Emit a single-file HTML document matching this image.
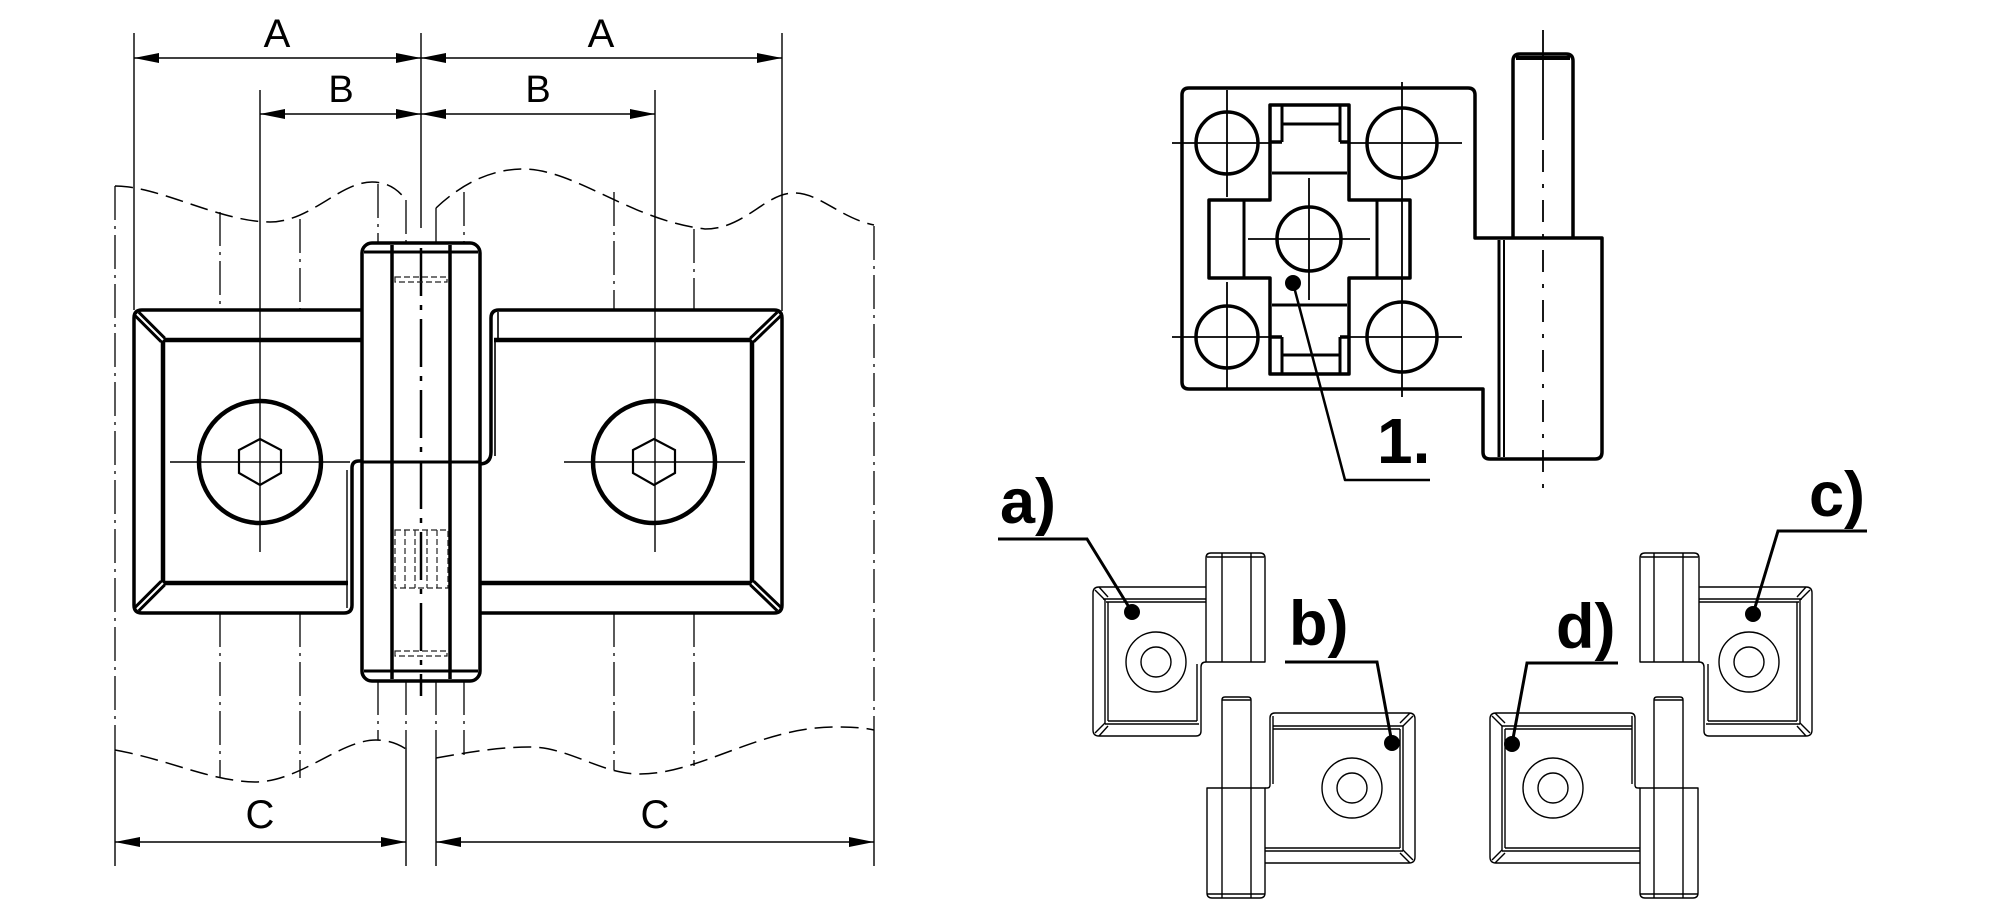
<!DOCTYPE html>
<html><head><meta charset="utf-8"><style>
html,body{margin:0;padding:0;background:#fff;}
svg{display:block;}
text{font-family:"Liberation Sans",Arial,sans-serif;fill:#000;}
</style></head><body>
<svg width="2000" height="912" viewBox="0 0 2000 912" xmlns="http://www.w3.org/2000/svg">
<rect width="2000" height="912" fill="#fff"/>

<!-- ============ MAIN DRAWING ============ -->
<!-- dimension labels -->
<g font-size="40" text-anchor="middle">
<text x="277" y="47">A</text>
<text x="601" y="47">A</text>
<text x="341" y="102" font-size="38">B</text>
<text x="538" y="102" font-size="38">B</text>
<text x="260" y="828">C</text>
<text x="655" y="828">C</text>
</g>

<!-- extension & dimension lines -->
<g stroke="#000" stroke-width="1.4" fill="none">
<line x1="134" y1="33" x2="134" y2="310"/>
<line x1="421" y1="33" x2="421" y2="228"/>
<line x1="782" y1="33" x2="782" y2="311"/>
<line x1="260" y1="90" x2="260" y2="552"/>
<line x1="655" y1="90" x2="655" y2="552"/>
<line x1="134" y1="58" x2="782" y2="58"/>
<line x1="260" y1="114" x2="655" y2="114"/>
<line x1="115" y1="842" x2="406" y2="842"/>
<line x1="436" y1="842" x2="874" y2="842"/>
<!-- C extension solid parts -->
<line x1="115" y1="752" x2="115" y2="866"/>
<line x1="406" y1="748" x2="406" y2="866"/>
<line x1="436" y1="758" x2="436" y2="866"/>
<line x1="874" y1="730" x2="874" y2="866"/>
</g>
<g fill="#000">
<polygon points="134,58 159,53 159,63"/>
<polygon points="421,58 396,53 396,63"/>
<polygon points="421,58 446,53 446,63"/>
<polygon points="782,58 757,53 757,63"/>
<polygon points="260,114 285,109 285,119"/>
<polygon points="421,114 396,109 396,119"/>
<polygon points="421,114 446,109 446,119"/>
<polygon points="655,114 630,109 630,119"/>
<polygon points="115,842 140,837 140,847"/>
<polygon points="406,842 381,837 381,847"/>
<polygon points="436,842 461,837 461,847"/>
<polygon points="874,842 849,837 849,847"/>
</g>

<!-- dash-dot construction lines -->
<g stroke="#000" stroke-width="1.3" fill="none" stroke-dasharray="34 6 3 6">
<line x1="115" y1="186" x2="115" y2="752"/>
<line x1="874" y1="226" x2="874" y2="730"/>
<line x1="220" y1="212" x2="220" y2="310"/>
<line x1="300" y1="219" x2="300" y2="310"/>
<line x1="378" y1="184" x2="378" y2="243"/>
<line x1="406" y1="200" x2="406" y2="243"/>
<line x1="436" y1="208" x2="436" y2="243"/>
<line x1="464" y1="192" x2="464" y2="243"/>
<line x1="614" y1="192" x2="614" y2="311"/>
<line x1="694" y1="229" x2="694" y2="311"/>
<line x1="220" y1="613" x2="220" y2="778"/>
<line x1="300" y1="613" x2="300" y2="778"/>
<line x1="378" y1="681" x2="378" y2="740"/>
<line x1="406" y1="681" x2="406" y2="748"/>
<line x1="436" y1="681" x2="436" y2="758"/>
<line x1="464" y1="681" x2="464" y2="755"/>
<line x1="614" y1="613" x2="614" y2="770"/>
<line x1="694" y1="613" x2="694" y2="766"/>
</g>

<!-- wavy break lines -->
<g stroke="#000" stroke-width="1.5" fill="none" stroke-dasharray="18 8">
<path d="M115,186 C160,186 220,222 270,222 C310,222 340,182 372,182 C390,182 400,192 406,200"/>
<path d="M436,208 C455,190 485,169 523,169 C575,169 630,220 705,229 C745,229 765,193 794,193 C820,193 840,218 874,225"/>
<path d="M115,750 C170,760 210,781 255,782 C300,782 340,740 376,740 C390,740 400,745 406,749"/>
<path d="M436,758 C470,752 500,747 529,747 C570,747 600,774 640,774 C700,774 760,727 835,727 C855,727 865,728 874,730"/>
</g>

<!-- left plate -->
<g stroke="#000" fill="none" stroke-linejoin="round">
<path d="M362,310 L142,310 Q134,310 134,318 L134,605 Q134,613 142,613 L344,613 Q352,613 352,605 L352,468 Q352,461 359,461 L362,461" stroke-width="3.5"/>
<line x1="347" y1="470" x2="347" y2="608" stroke-width="1.4"/>
<line x1="163" y1="340" x2="362" y2="340" stroke-width="4.5"/>
<line x1="163" y1="338" x2="163" y2="585" stroke-width="4.5"/>
<line x1="163" y1="583" x2="348" y2="583" stroke-width="4.5"/>
<!-- bevels -->
<line x1="137" y1="314" x2="163" y2="340" stroke-width="8"/>
<line x1="137" y1="314" x2="163" y2="340" stroke-width="2" stroke="#fff"/>
<line x1="137" y1="609" x2="163" y2="583" stroke-width="8"/>
<line x1="137" y1="609" x2="163" y2="583" stroke-width="2" stroke="#fff"/>
</g>

<!-- right plate -->
<g stroke="#000" fill="none" stroke-linejoin="round">
<path d="M479,464 Q491,464 491,452 L491,318 Q491,310 499,310 L774,310 Q782,310 782,318 L782,605 Q782,613 774,613 L479,613" stroke-width="3.5"/>
<line x1="498" y1="312" x2="498" y2="340" stroke-width="1.6"/>
<line x1="495" y1="342" x2="495" y2="456" stroke-width="1.6"/>
<line x1="494" y1="340" x2="752" y2="340" stroke-width="4.5"/>
<line x1="752" y1="338" x2="752" y2="585" stroke-width="4.5"/>
<line x1="479" y1="583" x2="752" y2="583" stroke-width="4.5"/>
<line x1="779" y1="314" x2="752" y2="340" stroke-width="8"/>
<line x1="779" y1="314" x2="752" y2="340" stroke-width="2" stroke="#fff"/>
<line x1="779" y1="609" x2="752" y2="583" stroke-width="8"/>
<line x1="779" y1="609" x2="752" y2="583" stroke-width="2" stroke="#fff"/>
</g>

<!-- hinge (main) -->
<g stroke="#000" fill="none">
<rect x="362" y="243" width="118" height="438" rx="10" stroke-width="3.5" fill="#fff"/>
<line x1="364" y1="252" x2="478" y2="252" stroke-width="3"/>
<line x1="364" y1="671" x2="478" y2="671" stroke-width="3"/>
<line x1="392" y1="245" x2="392" y2="679" stroke-width="3.5"/>
<line x1="450" y1="245" x2="450" y2="679" stroke-width="3.5"/>
<line x1="362" y1="462" x2="480" y2="462" stroke-width="3"/>
<line x1="421" y1="248" x2="421" y2="696" stroke-width="2.5" stroke-dasharray="48 9 5 9"/>
<g stroke-width="1.2" stroke-dasharray="6 3" stroke="#222">
<rect x="395" y="277" width="52" height="5"/>
<rect x="395" y="651" width="52" height="5"/>
<rect x="395" y="530" width="53" height="58"/>
<line x1="405" y1="530" x2="405" y2="588"/>
<line x1="415" y1="530" x2="415" y2="588"/>
<line x1="427" y1="530" x2="427" y2="588"/>
<line x1="437" y1="530" x2="437" y2="588"/>
</g>
</g>

<!-- screws -->
<g stroke="#000" fill="none">
<circle cx="260" cy="462" r="61" stroke-width="4.5"/>
<circle cx="654" cy="462" r="61" stroke-width="4.5"/>
<polygon points="260,439 281,450 281,473 260,485 239,473 239,450" stroke-width="2.2"/>
<polygon points="654,439 675,450 675,473 654,485 633,473 633,450" stroke-width="2.2"/>
<line x1="170" y1="462" x2="350" y2="462" stroke-width="1.4"/>
<line x1="564" y1="462" x2="745" y2="462" stroke-width="1.4"/>
</g>

<!-- ============ TOP RIGHT VIEW ============ -->
<g stroke="#000" fill="none" stroke-linejoin="round">
<path d="M1182,95 Q1182,88 1189,88 L1468,88 Q1475,88 1475,95 L1475,238 L1602,238 L1602,452 Q1602,459 1595,459 L1490,459 Q1483,459 1483,452 L1483,389 L1189,389 Q1182,389 1182,382 Z" stroke-width="3.5"/>
<line x1="1499" y1="240" x2="1499" y2="457" stroke-width="3"/>
<line x1="1504" y1="240" x2="1504" y2="457" stroke-width="2"/>
<path d="M1513,238 L1513,61 Q1513,54 1520,54 L1566,54 Q1573,54 1573,61 L1573,238" stroke-width="3.5"/>
<line x1="1516" y1="58" x2="1570" y2="58" stroke-width="4"/>
<line x1="1543" y1="30" x2="1543" y2="140" stroke-width="1.8"/>
<line x1="1543" y1="150" x2="1543" y2="493" stroke-width="1.8" stroke-dasharray="22 12 4 12"/>

<!-- cross-shaped recess -->
<polygon points="1270,105 1349,105 1349,200 1410,200 1410,278 1349,278 1349,374 1270,374 1270,278 1209,278 1209,200 1270,200" stroke-width="3.5"/>
<line x1="1244" y1="200" x2="1244" y2="278" stroke-width="3"/>
<line x1="1377" y1="200" x2="1377" y2="278" stroke-width="3"/>
<line x1="1272" y1="173" x2="1347" y2="173" stroke-width="3"/>
<line x1="1272" y1="305" x2="1347" y2="305" stroke-width="3"/>
<line x1="1282" y1="105" x2="1282" y2="142" stroke-width="3"/>
<line x1="1340" y1="105" x2="1340" y2="142" stroke-width="3"/>
<line x1="1282" y1="124" x2="1340" y2="124" stroke-width="3"/>
<line x1="1270" y1="142" x2="1282" y2="142" stroke-width="3.5"/>
<line x1="1340" y1="142" x2="1349" y2="142" stroke-width="3.5"/>
<line x1="1282" y1="337" x2="1282" y2="374" stroke-width="3"/>
<line x1="1340" y1="337" x2="1340" y2="374" stroke-width="3"/>
<line x1="1282" y1="355" x2="1340" y2="355" stroke-width="3"/>
<line x1="1270" y1="337" x2="1282" y2="337" stroke-width="3.5"/>
<line x1="1340" y1="337" x2="1349" y2="337" stroke-width="3.5"/>

<!-- bolt holes -->
<circle cx="1227" cy="143" r="31" stroke-width="3.5"/>
<circle cx="1402" cy="143" r="35" stroke-width="3.5"/>
<circle cx="1227" cy="337" r="31" stroke-width="3.5"/>
<circle cx="1402" cy="337" r="35" stroke-width="3.5"/>
<circle cx="1309" cy="239" r="32" stroke-width="3.5"/>
<g stroke-width="1.8">
<line x1="1172" y1="143" x2="1270" y2="143"/>
<line x1="1349" y1="143" x2="1462" y2="143"/>
<line x1="1172" y1="337" x2="1270" y2="337"/>
<line x1="1349" y1="337" x2="1462" y2="337"/>
<line x1="1227" y1="90" x2="1227" y2="197"/>
<line x1="1227" y1="282" x2="1227" y2="389"/>
<line x1="1402" y1="82" x2="1402" y2="397"/>
<line x1="1248" y1="239" x2="1370" y2="239"/>
<line x1="1309" y1="178" x2="1309" y2="300"/>
</g>
<!-- leader 1. -->
<polyline points="1293,283 1345,480 1430,480" stroke-width="2.5"/>
</g>
<circle cx="1293" cy="283" r="8" fill="#000"/>
<text x="1377" y="463" font-size="64" font-weight="bold">1.</text>

<!-- ============ a) / b) ============ -->
<g id="ab" stroke="#000" fill="none" stroke-width="1.4" stroke-linejoin="round">
<!-- plate a -->
<path d="M1206,587 L1099,587 Q1093,587 1093,593 L1093,730 Q1093,736 1099,736 L1196,736 Q1201,736 1201,731 L1201,667 Q1201,662 1206,662"/>
<line x1="1103" y1="599" x2="1206" y2="599"/>
<line x1="1106" y1="602" x2="1206" y2="602"/>
<line x1="1105" y1="599" x2="1105" y2="724"/>
<line x1="1108" y1="602" x2="1108" y2="721"/>
<line x1="1108" y1="721" x2="1197" y2="721"/>
<line x1="1105" y1="724" x2="1199" y2="724"/>
<line x1="1197" y1="664" x2="1197" y2="721"/>
<line x1="1095" y1="590" x2="1105" y2="600"/>
<line x1="1099" y1="587" x2="1108" y2="597"/>
<line x1="1095" y1="733" x2="1105" y2="723"/>
<line x1="1099" y1="736" x2="1108" y2="726"/>
<circle cx="1156" cy="662" r="30"/>
<circle cx="1156" cy="662" r="15"/>
<!-- hinge upper block -->
<path d="M1206,662 L1206,558 Q1206,553 1211,553 L1260,553 Q1265,553 1265,558 L1265,662 Z" fill="#fff"/>
<line x1="1207" y1="557" x2="1264" y2="557"/>
<line x1="1222" y1="553" x2="1222" y2="662"/>
<line x1="1251" y1="553" x2="1251" y2="662"/>
<!-- lower pin -->
<path d="M1222,788 L1222,700 Q1222,697 1225,697 L1248,697 Q1251,697 1251,700 L1251,788"/>
<line x1="1222" y1="700" x2="1251" y2="700"/>
<path d="M1207,788 L1265,788 L1265,893 Q1265,898 1260,898 L1212,898 Q1207,898 1207,893 Z"/>
<line x1="1222" y1="788" x2="1222" y2="898"/>
<line x1="1251" y1="788" x2="1251" y2="898"/>
<line x1="1207" y1="894" x2="1265" y2="894"/>
<!-- plate b -->
<path d="M1265,788 L1267,788 Q1270,788 1270,785 L1270,718 Q1270,713 1275,713 L1409,713 Q1415,713 1415,719 L1415,857 Q1415,863 1409,863 L1265,863"/>
<line x1="1273" y1="716" x2="1273" y2="784"/>
<line x1="1273" y1="726" x2="1403" y2="726"/>
<line x1="1273" y1="729" x2="1400" y2="729"/>
<line x1="1400" y1="729" x2="1400" y2="848"/>
<line x1="1403" y1="726" x2="1403" y2="851"/>
<line x1="1265" y1="848" x2="1400" y2="848"/>
<line x1="1265" y1="851" x2="1403" y2="851"/>
<line x1="1413" y1="716" x2="1403" y2="726"/>
<line x1="1410" y1="713" x2="1400" y2="723"/>
<line x1="1413" y1="860" x2="1403" y2="850"/>
<line x1="1410" y1="863" x2="1400" y2="853"/>
<circle cx="1352" cy="788" r="30"/>
<circle cx="1352" cy="788" r="15"/>
</g>
<!-- c) / d) mirrored -->
<use href="#ab" transform="translate(2905,0) scale(-1,1)"/>

<!-- leaders & labels -->
<g stroke="#000" stroke-width="3" fill="none">
<polyline points="998,539 1087,539 1132,612"/>
<polyline points="1285,662 1377,662 1392,743"/>
<polyline points="1867,531 1778,531 1753,614"/>
<polyline points="1618,663 1527,663 1512,744"/>
</g>
<g fill="#000">
<circle cx="1132" cy="612" r="8"/>
<circle cx="1392" cy="743" r="8"/>
<circle cx="1753" cy="614" r="8"/>
<circle cx="1512" cy="744" r="8"/>
</g>
<g font-size="63" font-weight="bold">
<text x="1000" y="523">a)</text>
<text x="1289" y="645">b)</text>
<text x="1809" y="516">c)</text>
<text x="1556" y="648">d)</text>
</g>
</svg>
</body></html>
